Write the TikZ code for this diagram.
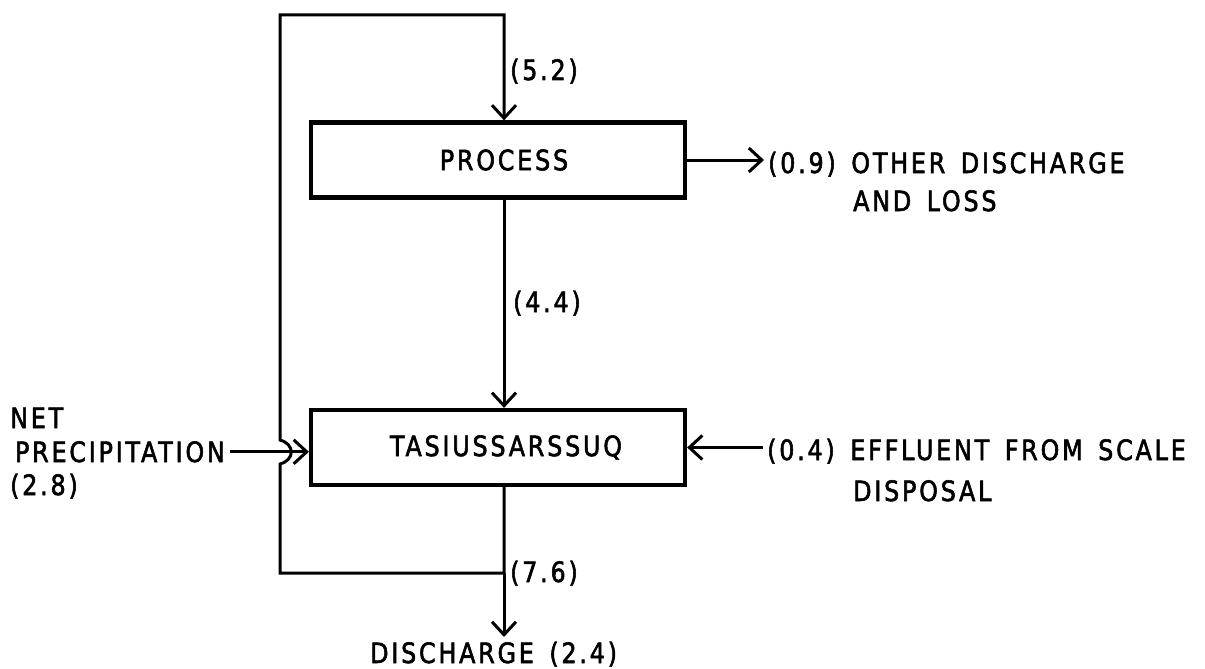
\documentclass[tikz,border=0pt]{standalone}
\usepackage{fontspec}
\setmainfont{DejaVu Sans}[LetterSpace=10,WordSpace=1.5,FakeStretch=0.85,FakeBold=2]
\usetikzlibrary{arrows.meta}
\begin{document}
\begin{tikzpicture}[x=1pt,y=-1pt,
  conn/.style={line width=3pt},
  arr/.style={conn,-{Straight Barb[length=13pt,width=24pt,line width=3pt]}},
  box/.style={draw,line width=4.2pt,minimum width=374pt,minimum height=75pt,inner sep=0,
    font=\fontsize{28}{32}\selectfont},
  lab/.style={font=\fontsize{28}{32}\selectfont,inner sep=0,anchor=base west},
  lbl/.style={lab,inner xsep=4pt}]
\useasboundingbox (0,0) rectangle (1205,669);
% boxes
\node[box] (proc) at (498,160) {\hspace*{12pt}PROCESS};
\node[box] (tas) at (498,447.5) {\hspace*{16pt}TASIUSSARSSUQ};
% texts
\node[lab] (l52) at (510,80) {(5.2)};
\node[lab] (l44) at (513,312) {(4.4)};
\node[lab] (l76) at (510,582) {(7.6)};
\node[lbl] (o1) at (764,173) {(0.9) OTHER DISCHARGE};
\node[lab] (o2) at (853,211) {AND LOSS};
\node[lbl] (e1) at (763,460) {(0.4) EFFLUENT FROM SCALE};
\node[lab] (e2) at (853,501) {DISPOSAL};
\node[lab] (n1) at (10,428) {NET};
\node[lab,anchor=base east,inner xsep=5pt] (n2) at (230,462) {PRECIPITATION};
\node[lab] (n3) at (10,495) {(2.8)};
\node[lab] (dis) at (370,663) {DISCHARGE (2.4)};
% coordinates
\coordinate (j) at (504,573);
\coordinate (bl) at (280,573);
\coordinate (h1) at (280,464);
\coordinate (h2) at (280,440);
\coordinate (tl) at (280,15);
\coordinate (tr) at (504,15);
\coordinate (dtip) at (504,637);
% connectors
\draw[arr] (tas.south -| j) -- (j) -- (bl) -- (h1)
  .. controls (295,460) and (295,444) .. (h2) -- (tl) -- (tr) -- (proc.north -| tr);
\draw[arr] (proc.south -| tr) -- (tas.north -| tr);
\draw[arr] (j) -- (dtip);
\draw[arr] (proc.east) -- (proc.east -| o1.west);
\draw[arr] (e1.west |- tas.east) -- (tas.east);
\draw[arr] (n2.east) -- (n2.east -| tas.west);
\end{tikzpicture}
\end{document}
